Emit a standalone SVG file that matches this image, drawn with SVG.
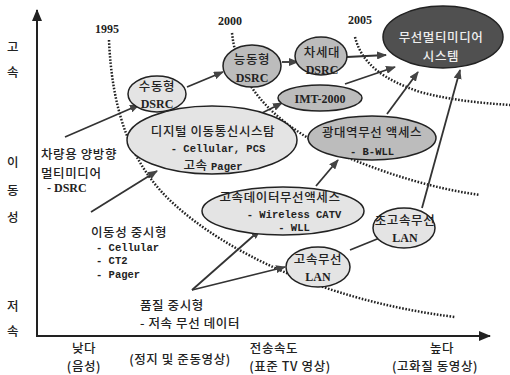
<svg xmlns="http://www.w3.org/2000/svg" width="510" height="375" viewBox="0 0 510 375">
<style>
.ko{font-family:"Noto Sans CJK KR","Noto Sans",sans-serif;font-size:12.5px;fill:#222;font-weight:500;letter-spacing:0.6px}
.yr{font-family:"Liberation Serif",serif;font-size:12px;font-weight:bold;fill:#222}
.ser{font-family:"Liberation Serif",serif;font-size:12px;font-weight:bold;fill:#222}
.mono{font-family:"Liberation Mono",monospace;font-size:10.5px;font-weight:bold;fill:#222;letter-spacing:0}
.c{text-anchor:middle}
.light{fill:#e4e4e4;stroke:#222;stroke-width:1.5}
.mid{fill:#bcbcbc;stroke:#222;stroke-width:1.5}
.dark{fill:#505050;stroke:#222;stroke-width:1.5}
.dot{fill:none;stroke:#222;stroke-width:2.5;stroke-dasharray:1.6 1.6}
.ar{fill:none;stroke:#333;stroke-width:1.8;marker-end:url(#ah)}
.axis{fill:none;stroke:#222;stroke-width:2}
</style>
<defs>
<marker id="ah" markerWidth="10" markerHeight="8" refX="9" refY="4" orient="auto" markerUnits="userSpaceOnUse">
<path d="M0,0 L10,4 L0,8 Z" fill="#444"/>
</marker>
<marker id="axh" markerWidth="12" markerHeight="10" refX="11" refY="5" orient="auto" markerUnits="userSpaceOnUse">
<path d="M0,0 L12,5 L0,10 Z" fill="#222"/>
</marker>
</defs>
<rect width="510" height="375" fill="#ffffff"/>

<g id="axes">
<path class="axis" d="M37,337 L37,10" marker-end="url(#axh)"/>
<path class="axis" d="M36,336 L490,336" marker-end="url(#axh)"/>
<text class="ko c" x="13" y="52">고</text>
<text class="ko c" x="13" y="77">속</text>
<text class="ko c" x="13" y="167">이</text>
<text class="ko c" x="13" y="195">동</text>
<text class="ko c" x="13" y="222">성</text>
<text class="ko c" x="13" y="311">저</text>
<text class="ko c" x="13" y="336">속</text>
<text class="ko c" x="84" y="353">낮다</text>
<text class="ko c" x="84" y="371">(음성)</text>
<text class="ko c" x="180" y="364">(정지 및 준동영상)</text>
<text class="ko c" x="274" y="353">전송속도</text>
<text class="ko c" x="290" y="371">(표준 TV 영상)</text>
<text class="ko c" x="442" y="353">높다</text>
<text class="ko c" x="435" y="371">(고화질 동영상)</text>
</g>

<g id="eras">
<path class="dot" d="M109,40 C112,110 130,165 175,205 C225,250 320,300 455,317"/>
<path class="dot" d="M232,33 C238,90 280,125 330,150 C380,172 430,188 480,195"/>
<path class="dot" d="M355,37 C362,65 385,80 420,92 C450,100 480,103 510,105"/>
<text class="yr c" x="107" y="33">1995</text>
<text class="yr c" x="230" y="25">2000</text>
<text class="yr c" x="360" y="24">2005</text>
</g>

<g id="connectors">
<path class="ar" d="M65,137 L139,105"/>
<path class="ar" d="M187,87 L223,72"/>
<path class="ar" d="M282,62 L298,62"/>
<path class="ar" d="M347,57 L386,55"/>
<path class="ar" d="M345,84 L395,67"/>
<path class="ar" d="M262,113 L282,103"/>
<path class="ar" d="M387,114 L418,72"/>
<path class="ar" d="M422,208 L460,70"/>
<path class="ar" d="M316,186 L338,160"/>
<path class="ar" d="M91,212 L157,171"/>
<path class="ar" d="M192,290 L260,230"/>
<path class="ar" d="M192,290 L285,267"/>
<path class="ar" d="M350,250 L387,235"/>
</g>

<g id="n-digital">
<ellipse class="light" cx="212" cy="140" rx="85" ry="34"/>
<text class="ko c" x="213" y="136">디지털 이동통신시스탐</text>
<text class="mono c" x="218" y="152">- Cellular, PCS</text>
<text class="ko c" x="213" y="170">고속 <tspan class="mono">Pager</tspan></text>
</g>

<g id="n-sudong">
<ellipse class="light" cx="157" cy="94" rx="29" ry="18"/>
<text class="ko c" x="157" y="91">수동형</text>
<text class="ser c" x="157" y="108">DSRC</text>
</g>

<g id="n-neungdong">
<ellipse class="mid" cx="252" cy="66" rx="29" ry="21"/>
<text class="ko c" x="252" y="64">능동형</text>
<text class="ser c" x="252" y="82">DSRC</text>
</g>

<g id="n-chasedae">
<ellipse class="mid" cx="321" cy="56" rx="26" ry="19"/>
<text class="ko c" x="322" y="57">차세대</text>
<text class="ser c" x="322" y="74">DSRC</text>
</g>

<g id="n-multimedia">
<ellipse class="dark" cx="443" cy="37" rx="60" ry="31"/>
<text class="ko c" x="441" y="42" style="fill:#eeeeee">무선멀티미디어</text>
<text class="ko c" x="441" y="61" style="fill:#eeeeee">시스템</text>
</g>

<g id="n-imt">
<ellipse class="mid" cx="320" cy="98" rx="42" ry="13"/>
<text class="ser c" x="320" y="103">IMT-2000</text>
</g>

<g id="n-broadband">
<ellipse class="mid" cx="372" cy="138" rx="64" ry="22"/>
<text class="ko c" x="372" y="137">광대역무선 액세스</text>
<text class="mono c" x="372" y="155">-  B-WLL</text>
</g>

<g id="n-highdata">
<ellipse class="light" cx="283" cy="211" rx="81" ry="24"/>
<text class="ko c" x="280" y="202">고속데이터무선액세스</text>
<text class="mono c" x="294" y="218">- Wireless CATV</text>
<text class="mono c" x="294" y="231">- WLL</text>
</g>

<g id="n-ultralan">
<ellipse class="light" cx="404" cy="228" rx="31" ry="20"/>
<text class="ko c" x="405" y="225">초고속무선</text>
<text class="ser c" x="405" y="242">LAN</text>
</g>

<g id="n-lan">
<ellipse class="light" cx="318" cy="267" rx="32" ry="20"/>
<text class="ko c" x="318" y="264">고속무선</text>
<text class="ser c" x="318" y="281">LAN</text>
</g>

<g id="n-vehicle">
<text class="ko" x="41" y="159">차량용 양방향</text>
<text class="ko" x="41" y="178">멀티미디어</text>
<text class="ser" x="47" y="192">- DSRC</text>
</g>

<g id="n-mobility">
<text class="ko" x="91" y="237">이동성 중시형</text>
<text class="mono" x="96" y="251">- Cellular</text>
<text class="mono" x="96" y="264">- CT2</text>
<text class="mono" x="96" y="278">- Pager</text>
</g>

<g id="n-quality">
<text class="ko" x="140" y="310">품질 중시형</text>
<text class="ko" x="140" y="328">- 저속 무선 데이터</text>
</g>
</svg>
